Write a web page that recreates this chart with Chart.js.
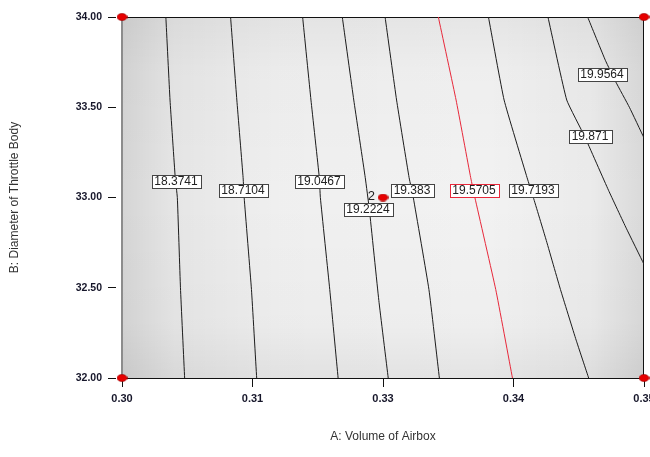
<!DOCTYPE html>
<html>
<head>
<meta charset="utf-8">
<script src="https://cdn.jsdelivr.net/npm/chart.js@4.4.1/dist/chart.umd.min.js"></script>
<style>
  html, body { margin: 0; padding: 0; background: #fff; overflow: hidden; }
</style>
</head>
<body>
<canvas id="contour" width="650" height="457"></canvas>
<script>
// contour levels of the response
const levels = [18.3741, 18.7104, 19.0467, 19.2224, 19.383, 19.5705, 19.7193, 19.871, 19.9564];

// traced contour lines: A = volume of airbox, B = throttle body diameter
const c1A = [0.3042, 0.3046, 0.3051, 0.3053, 0.3056, 0.3060];
const c1B = [34.00, 33.54, 33.11, 33.00, 32.50, 32.00];
const c2A = [0.3104, 0.3110, 0.3116, 0.3117, 0.3124, 0.3129];
const c2B = [34.00, 33.54, 33.11, 33.00, 32.49, 32.00];
const c3A = [0.3173, 0.3181, 0.3189, 0.3190, 0.3199, 0.3207];
const c3B = [34.00, 33.54, 33.11, 33.00, 32.49, 32.00];
const c4A = [0.3211, 0.3222, 0.3233, 0.3237, 0.3246, 0.3255];
const c4B = [34.00, 33.54, 33.11, 32.93, 32.43, 32.00];
const c5A = [0.3252, 0.3263, 0.3275, 0.3279, 0.3294, 0.3304];
const c5B = [34.00, 33.54, 33.11, 33.00, 32.49, 32.00];
const c6A = [0.3303, 0.3320, 0.3334, 0.3338, 0.3358, 0.3374];
const c6B = [34.00, 33.54, 33.11, 33.00, 32.49, 32.00];
const c7A = [0.3351, 0.3366, 0.3388, 0.3394, 0.3406, 0.3420, 0.3435, 0.3447];
const c7B = [34.00, 33.54, 33.11, 33.00, 32.77, 32.49, 32.21, 32.00];
const c8A = [0.3408, 0.3426, 0.3443, 0.3466, 0.3483, 0.3500];
const c8B = [34.00, 33.54, 33.34, 33.04, 32.83, 32.63];
const c9A = [0.3446, 0.3463, 0.3473, 0.3486, 0.3500];
const c9B = [34.00, 33.76, 33.64, 33.50, 33.33];

// where each level is labelled
const labelA = [0.30515, 0.31159, 0.31889, 0.32357, 0.32777, 0.33368, 0.33941, 0.34480, 0.34600];
const labelB = [33.092, 33.039, 33.092, 32.939, 33.039, 33.039, 33.039, 33.338, 33.684];

// design points (center point has 2 runs)
const designA = [0.30, 0.35, 0.30, 0.35, 0.325];
const designB = [34.00, 34.00, 32.00, 32.00, 33.00];
const centerRuns = 2;

// axis ticks
const xTicks = [0.30, 0.3125, 0.325, 0.3375, 0.35];
const xTickLabels = ['0.30', '0.31', '0.33', '0.34', '0.35'];
const yTicks = [32.0, 32.5, 33.0, 33.5, 34.0];

const FONT = '"Liberation Sans", Arial, sans-serif';

function toPoints(a, b) {
    return a.map((v, i) => ({ x: v, y: b[i] }));
}

// small red ellipse used as marker for design points
function redDot() {
    const c = document.createElement('canvas');
    c.width = 11; c.height = 8;
    const g = c.getContext('2d');
    g.fillStyle = '#e60000';
    g.beginPath();
    g.ellipse(5.5, 4, 5, 3.5, 0, 0, Math.PI * 2);
    g.fill();
    g.strokeStyle = '#a00000';
    g.lineWidth = 0.7;
    g.stroke();
    return c;
}

const lines = [[c1A, c1B], [c2A, c2B], [c3A, c3B], [c4A, c4B], [c5A, c5B],
               [c6A, c6B], [c7A, c7B], [c8A, c8B], [c9A, c9B]];
const redLevel = 19.5705;

const datasets = lines.map((l, i) => ({
    data: toPoints(l[0], l[1]),
    showLine: true,
    borderColor: levels[i] === redLevel ? '#e8283a' : '#1c1c1c',
    borderWidth: 1,
    pointRadius: 0,
    tension: 0.12
}));

datasets.push({
    data: toPoints(designA, designB),
    showLine: false,
    pointStyle: redDot(),
    pointRadius: 5,
    clip: false
});

// shaded plot background, lighter in the middle
const plotBackground = {
    id: 'plotBackground',
    beforeDraw(chart) {
        const { ctx, chartArea: a } = chart;
        ctx.save();
        ctx.fillStyle = '#f2f2f2';
        ctx.fillRect(a.left, a.top, a.width, a.height);
        let g = ctx.createLinearGradient(a.left, 0, a.right, 0);
        g.addColorStop(0, 'rgba(0,0,0,0.12)');
        g.addColorStop(0.1, 'rgba(0,0,0,0.05)');
        g.addColorStop(0.3, 'rgba(0,0,0,0.01)');
        g.addColorStop(0.7, 'rgba(0,0,0,0.0)');
        g.addColorStop(0.9, 'rgba(0,0,0,0.03)');
        g.addColorStop(1, 'rgba(0,0,0,0.10)');
        ctx.fillStyle = g;
        ctx.fillRect(a.left, a.top, a.width, a.height);
        g = ctx.createLinearGradient(0, a.top, 0, a.bottom);
        g.addColorStop(0, 'rgba(0,0,0,0.05)');
        g.addColorStop(0.15, 'rgba(0,0,0,0.015)');
        g.addColorStop(0.5, 'rgba(0,0,0,0)');
        g.addColorStop(0.85, 'rgba(0,0,0,0.015)');
        g.addColorStop(1, 'rgba(0,0,0,0.06)');
        ctx.fillStyle = g;
        ctx.fillRect(a.left, a.top, a.width, a.height);
        ctx.restore();
    },
    // frame around the plot, under the markers
    beforeDatasetsDraw(chart) {
        const { ctx, chartArea: a } = chart;
        ctx.save();
        ctx.strokeStyle = '#111';
        ctx.lineWidth = 1;
        ctx.beginPath();
        ctx.moveTo(a.left, a.top + 0.5);
        ctx.lineTo(a.right, a.top + 0.5);
        ctx.moveTo(a.right - 0.5, a.top);
        ctx.lineTo(a.right - 0.5, a.bottom);
        ctx.moveTo(a.left, a.bottom + 0.5);
        ctx.lineTo(a.right, a.bottom + 0.5);
        ctx.stroke();
        ctx.strokeStyle = '#8c8c8c';
        ctx.lineWidth = 2;
        ctx.beginPath();
        ctx.moveTo(a.left, a.top);
        ctx.lineTo(a.left, a.bottom + 1);
        ctx.stroke();
        ctx.restore();
    }
};

// boxed contour values and the replicate count
const contourLabels = {
    id: 'contourLabels',
    afterDatasetsDraw(chart) {
        const { ctx, scales: { x, y } } = chart;
        ctx.save();
        ctx.font = '12px ' + FONT;
        ctx.textAlign = 'center';
        ctx.textBaseline = 'middle';
        levels.forEach((lv, i) => {
            const txt = String(lv);
            const px = Math.round(x.getPixelForValue(labelA[i]));
            const py = Math.round(y.getPixelForValue(labelB[i]));
            const w = Math.round(ctx.measureText(txt).width) + 6;
            const h = 13;
            const left = Math.round(px - w / 2) + 0.5;
            const top = Math.round(py - h / 2) + 0.5;
            ctx.fillStyle = '#fff';
            ctx.fillRect(left, top, w, h);
            ctx.strokeStyle = lv === redLevel ? '#e8283a' : '#444';
            ctx.lineWidth = 1;
            ctx.strokeRect(left, top, w, h);
            ctx.fillStyle = '#222';
            ctx.fillText(txt, px, py + 0.5);
        });
        const cx = x.getPixelForValue(designA[4]);
        const cy = y.getPixelForValue(designB[4]);
        ctx.textAlign = 'right';
        ctx.fillStyle = '#222';
        ctx.font = '13px ' + FONT;
        ctx.fillText(String(centerRuns), cx - 8, cy - 1);
        ctx.restore();
    }
};

new Chart(document.getElementById('contour'), {
    type: 'scatter',
    data: { datasets: datasets },
    options: {
        responsive: false,
        animation: false,
        layout: { padding: { left: 0, right: 4, top: 17, bottom: 0 } },
        plugins: { legend: { display: false }, tooltip: { enabled: false } },
        scales: {
            x: {
                type: 'linear',
                min: 0.30,
                max: 0.35,
                afterBuildTicks: s => { s.ticks = xTicks.map(v => ({ value: v })); },
                afterFit: s => { s.height = 79; s.paddingLeft = 0; s.paddingRight = 0; },
                border: { display: false },
                grid: { display: true, drawOnChartArea: false, drawTicks: true, tickLength: 9, tickColor: '#111', tickWidth: 1 },
                ticks: {
                    padding: 5,
                    maxRotation: 0,
                    autoSkip: false,
                    color: '#16162a',
                    font: { family: FONT, size: 11, weight: 'bold' },
                    callback: (v, i) => xTickLabels[i]
                },
                title: {
                    display: true,
                    text: 'A: Volume of Airbox',
                    color: '#333',
                    font: { family: FONT, size: 12 },
                    padding: { top: 0, bottom: 13 }
                }
            },
            y: {
                type: 'linear',
                min: 32,
                max: 34,
                afterBuildTicks: s => { s.ticks = yTicks.map(v => ({ value: v })); },
                afterFit: s => { s.width = 122; s.paddingTop = 0; s.paddingBottom = 0; },
                border: { display: false },
                grid: { display: true, drawOnChartArea: false, drawTicks: true, tickLength: 14, tickColor: '#111', tickWidth: 1, tickBorderDash: [8, 100] },
                ticks: {
                    padding: 6,
                    autoSkip: false,
                    color: '#16162a',
                    font: { family: FONT, size: 10.5, weight: 'bold' },
                    callback: v => Number(v).toFixed(2)
                },
                title: {
                    display: true,
                    text: 'B: Diameter of Throttle Body',
                    color: '#333',
                    font: { family: FONT, size: 12 },
                    padding: { top: 7, bottom: 0 }
                }
            }
        }
    },
    plugins: [plotBackground, contourLabels]
});
</script>
</body>
</html>
